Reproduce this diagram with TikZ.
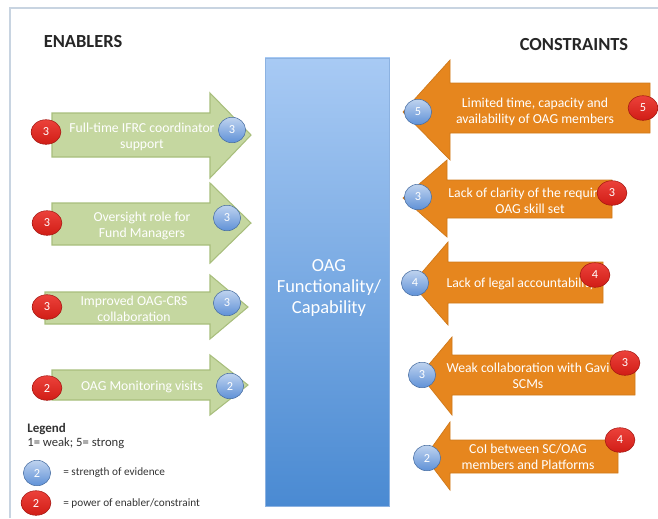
\documentclass[tikz,border=0pt]{standalone}
\usepackage{fontspec}
\setmainfont{Carlito}
\usetikzlibrary{shapes.geometric}

\definecolor{enablerfill}{RGB}{197,215,160}
\definecolor{enablerline}{RGB}{168,190,124}
\definecolor{constraintfill}{RGB}{230,134,30}
\definecolor{framecol}{RGB}{200,212,225}
\definecolor{boxtop}{RGB}{168,202,244}
\definecolor{boxbottom}{RGB}{74,138,210}
\definecolor{boxline}{RGB}{140,178,225}
\definecolor{evidence}{RGB}{95,145,215}
\definecolor{power}{RGB}{232,32,24}

\begin{document}
\begin{tikzpicture}[
    x=0.02cm, y=-0.02cm,
    every node/.style={font=\fontsize{7.8}{9}\selectfont, align=center, inner sep=0pt},
    heading/.style={font=\fontsize{10.5}{12}\selectfont\bfseries, text=black!85},
    armtext/.style={text=white},
    legendtext/.style={font=\fontsize{6.4}{7}\selectfont, text=black!80, anchor=west},
    enabler/.style={fill=enablerfill, draw=enablerline, line width=0.6pt},
    constraint/.style={fill=constraintfill, draw=constraintfill!90!black, line width=0.4pt},
    strength/.style={ellipse, minimum width=15.5pt, minimum height=14.5pt, text=white,
        font=\fontsize{7}{8}\selectfont, top color=evidence!40, bottom color=evidence,
        draw=evidence!75!black, line width=0.3pt},
    power/.style={ellipse, minimum width=17pt, minimum height=14pt, text=white,
        font=\fontsize{7}{8}\selectfont, top color=power!85, bottom color=power!90!black,
        draw=power!70!black, line width=0.3pt},
]
\useasboundingbox (0,0) rectangle (658,518);

% Frame
\draw[framecol, line width=1.2pt] (10,518) -- (10,8) -- (658,8);

% Headings
\node[heading] (enablers) at (83,42) {ENABLERS};
\node[heading] (constraints) at (574,45) {CONSTRAINTS};

% Central box
\node[draw=boxline, line width=0.5pt, top color=boxtop, bottom color=boxbottom,
    minimum width=70.9pt, minimum height=255pt] (oag) at (327.5,282) {};
\node[text=white, font=\fontsize{10.5}{12}\selectfont] (oaglabel) at (329,288)
    {OAG\\Functionality/\\Capability};

% Enabler arrows (pointing right)
\foreach \yt/\yb/\ht/\hb/\yc/\xl/\xt in {113/157/93/178/135/52/251,
    203/245/183/263/223/52/251, 292/324/275/339/307/45/248, 370/400/355/415/385/52/248} {
    \draw[enabler] (\xl,\yt) -- (210,\yt) -- (210,\ht) -- (\xt,\yc)
        -- (210,\hb) -- (210,\yb) -- (\xl,\yb) -- cycle;
}

% Constraint arrows (pointing left)
\foreach \xt/\yc/\xh/\ht/\hb/\yt/\yb/\xr in {403/112/450/60/160/83/133/650,
    403/198/447/160/237/180/218/612, 412/284/448/242/325/262/303/603,
    420/375/452/337/415/355/395/635, 425/457/450/422/490/440/473/618} {
    \draw[constraint] (\xr,\yt) -- (\xh,\yt) -- (\xh,\ht) -- (\xt,\yc)
        -- (\xh,\hb) -- (\xh,\yb) -- (\xr,\yb) -- cycle;
}

% Enabler labels
\node[armtext] (e1) at (142,137) {Full-time IFRC coordinator\\support};
\node[armtext] (e2) at (142,226) {Oversight role for\\Fund Managers};
\node[armtext] (e3) at (134,309) {Improved OAG-CRS\\collaboration};
\node[armtext] (e4) at (142,387) {OAG Monitoring visits};

% Constraint labels
\node[armtext] (c1) at (535,112) {Limited time, capacity and\\availability of OAG members};
\node[armtext] (c2) at (530,201) {Lack of clarity of the required\\OAG skill set};
\node[armtext] (c3) at (521,284) {Lack of legal accountability};
\node[armtext] (c4) at (528,376) {Weak collaboration with Gavi\\SCMs};
\node[armtext] (c5) at (528,457) {CoI between SC/OAG\\members and Platforms};

% Enabler ratings
\foreach \n/\px/\py/\pv/\sx/\sy/\sv in {1/46/132/3/232/130/3, 2/47/223/3/227/218/3,
    3/47/307/3/227/303/3, 4/47/388/2/230/386/2} {
    \node[power] (ep\n) at (\px,\py) {\pv};
    \node[strength] (es\n) at (\sx,\sy) {\sv};
}

% Constraint ratings
\foreach \n/\sx/\sy/\sv/\px/\py/\pv in {1/418/112/5/643/108/5, 2/418/197/3/612/193/3,
    3/415/283/4/595/275/4, 4/422/375/3/625/363/3, 5/427/458/2/620/440/4} {
    \node[strength] (cs\n) at (\sx,\sy) {\sv};
    \node[power] (cp\n) at (\px,\py) {\pv};
}

% Legend
\node[legendtext, font=\fontsize{7.4}{8}\selectfont\bfseries] (legend) at (27,429) {Legend};
\node[legendtext, font=\fontsize{7.2}{8}\selectfont] (scale) at (27,443) {1= weak; 5= strong};
\node[strength] (keystrength) at (37,473) {2};
\node[legendtext] (keystrengthtext) at (63,473) {= strength of evidence};
\node[power] (keypower) at (36,503) {2};
\node[legendtext] (keypowertext) at (63,503) {= power of enabler/constraint};

\end{tikzpicture}
\end{document}
